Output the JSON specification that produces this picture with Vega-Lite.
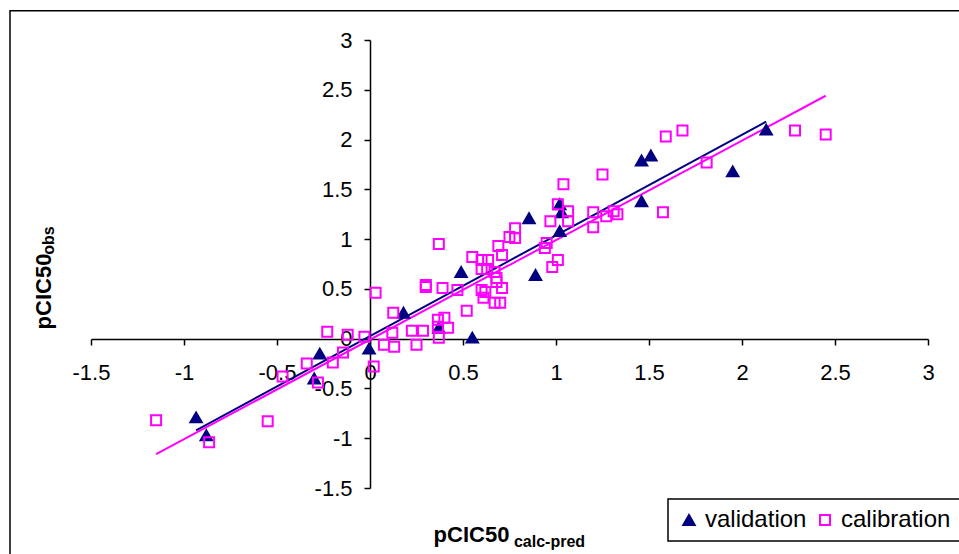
{
  "$schema": "https://vega.github.io/schema/vega-lite/v6.json",
  "width": 837,
  "height": 448,
  "autosize": {"type": "none"},
  "padding": {"left": 91, "top": 40, "right": 31, "bottom": 66},
  "background": "white",
  "config": {
    "view": {"stroke": null},
    "font": "Liberation Sans",
    "axis": {
      "grid": false,
      "domainColor": "black",
      "tickColor": "black",
      "labelColor": "black",
      "titleColor": "black",
      "domainWidth": 1.5,
      "tickWidth": 1.5,
      "labelFont": "Liberation Sans",
      "titleFont": "Liberation Sans",
      "labelFlush": false,
      "labelOverlap": false
    },
    "legend": {
      "orient": "none",
      "legendX": 577,
      "legendY": 459,
      "direction": "horizontal",
      "strokeColor": "black",
      "strokeWidth": 1.5,
      "fillColor": "white",
      "padding": 9,
      "labelFont": "Liberation Sans",
      "labelFontSize": 24,
      "labelColor": "black",
      "labelOffset": 4,
      "columnPadding": 6,
      "symbolStrokeWidth": 2
    }
  },
  "layer": [
    {
      "data": {"values": [{"frame": 1}]},
      "mark": {"type": "rect", "fill": "transparent", "stroke": "black", "strokeWidth": 1.5, "clip": false},
      "encoding": {
        "x": {"datum": -1.9355, "type": "quantitative", "scale": {"domain": [-1.5, 3], "nice": false, "zero": false}, "axis": null},
        "x2": {"datum": 3.6},
        "y": {"datum": 3.293, "type": "quantitative", "scale": {"domain": [-1.5, 3], "nice": false, "zero": false}, "axis": null},
        "y2": {"datum": -2.6}
      }
    },
    {
      "data": {"values": [{"x": -0.935, "y": -0.92}, {"x": 2.13, "y": 2.18}]},
      "mark": {"type": "line", "color": "#000080", "strokeWidth": 2},
      "encoding": {
        "x": {"field": "x", "type": "quantitative", "scale": {"domain": [-1.5, 3], "nice": false, "zero": false},
          "axis": {"orient": "bottom", "offset": -149, "domain": false, "ticks": false, "labels": false, "title": "calc-pred", "titleFontSize": 16, "titleFontWeight": "bold", "titleX": 458, "titleY": 202, "titleAlign": "center", "titleBaseline": "middle"}},
        "y": {"field": "y", "type": "quantitative", "scale": {"domain": [-1.5, 3], "nice": false, "zero": false},
          "axis": {"orient": "left", "offset": -279, "domain": false, "ticks": false, "labels": false, "title": "obs", "titleFontSize": 16, "titleFontWeight": "bold", "titleX": -322, "titleY": 200, "titleAlign": "center", "titleBaseline": "middle"}}
      }
    },
    {
      "data": {"values": [{"x": -1.15, "y": -1.16}, {"x": 2.45, "y": 2.44}]},
      "mark": {"type": "line", "color": "#FF00FF", "strokeWidth": 2},
      "encoding": {
        "x": {"field": "x", "type": "quantitative", "scale": {"domain": [-1.5, 3], "nice": false, "zero": false}, "axis": null},
        "y": {"field": "y", "type": "quantitative", "scale": {"domain": [-1.5, 3], "nice": false, "zero": false}, "axis": null}
      }
    },
    {
      "data": {"values": [
        {"set": "validation", "x": -0.935, "y": -0.79},
        {"set": "validation", "x": -0.88, "y": -0.97},
        {"set": "validation", "x": -0.27, "y": -0.15},
        {"set": "validation", "x": -0.30, "y": -0.40},
        {"set": "validation", "x": -0.005, "y": -0.10},
        {"set": "validation", "x": 0.18, "y": 0.26},
        {"set": "validation", "x": 0.37, "y": 0.11},
        {"set": "validation", "x": 0.49, "y": 0.67},
        {"set": "validation", "x": 0.55, "y": 0.01},
        {"set": "validation", "x": 0.855, "y": 1.21},
        {"set": "validation", "x": 0.89, "y": 0.64},
        {"set": "validation", "x": 1.02, "y": 1.35},
        {"set": "validation", "x": 1.03, "y": 1.27},
        {"set": "validation", "x": 1.02, "y": 1.08},
        {"set": "validation", "x": 1.46, "y": 1.79},
        {"set": "validation", "x": 1.51, "y": 1.84},
        {"set": "validation", "x": 1.46, "y": 1.38},
        {"set": "validation", "x": 1.95, "y": 1.68},
        {"set": "validation", "x": 2.13, "y": 2.10},
        {"set": "calibration", "x": -1.15, "y": -0.82},
        {"set": "calibration", "x": -0.865, "y": -1.04},
        {"set": "calibration", "x": -0.55, "y": -0.83},
        {"set": "calibration", "x": -0.47, "y": -0.38},
        {"set": "calibration", "x": -0.34, "y": -0.25},
        {"set": "calibration", "x": -0.28, "y": -0.44},
        {"set": "calibration", "x": -0.20, "y": -0.24},
        {"set": "calibration", "x": -0.145, "y": -0.14},
        {"set": "calibration", "x": -0.23, "y": 0.07},
        {"set": "calibration", "x": -0.12, "y": 0.04},
        {"set": "calibration", "x": -0.03, "y": 0.02},
        {"set": "calibration", "x": 0.02, "y": -0.28},
        {"set": "calibration", "x": 0.075, "y": -0.06},
        {"set": "calibration", "x": 0.03, "y": 0.46},
        {"set": "calibration", "x": 0.13, "y": -0.08},
        {"set": "calibration", "x": 0.12, "y": 0.06},
        {"set": "calibration", "x": 0.125, "y": 0.26},
        {"set": "calibration", "x": 0.225, "y": 0.08},
        {"set": "calibration", "x": 0.285, "y": 0.08},
        {"set": "calibration", "x": 0.25, "y": -0.06},
        {"set": "calibration", "x": 0.30, "y": 0.54},
        {"set": "calibration", "x": 0.30, "y": 0.52},
        {"set": "calibration", "x": 0.37, "y": 0.95},
        {"set": "calibration", "x": 0.365, "y": 0.19},
        {"set": "calibration", "x": 0.365, "y": 0.12},
        {"set": "calibration", "x": 0.37, "y": 0.01},
        {"set": "calibration", "x": 0.40, "y": 0.21},
        {"set": "calibration", "x": 0.42, "y": 0.11},
        {"set": "calibration", "x": 0.39, "y": 0.51},
        {"set": "calibration", "x": 0.47, "y": 0.49},
        {"set": "calibration", "x": 0.52, "y": 0.28},
        {"set": "calibration", "x": 0.55, "y": 0.82},
        {"set": "calibration", "x": 0.60, "y": 0.79},
        {"set": "calibration", "x": 0.635, "y": 0.79},
        {"set": "calibration", "x": 0.60, "y": 0.70},
        {"set": "calibration", "x": 0.63, "y": 0.70},
        {"set": "calibration", "x": 0.67, "y": 0.67},
        {"set": "calibration", "x": 0.68, "y": 0.61},
        {"set": "calibration", "x": 0.68, "y": 0.57},
        {"set": "calibration", "x": 0.60, "y": 0.49},
        {"set": "calibration", "x": 0.62, "y": 0.47},
        {"set": "calibration", "x": 0.61, "y": 0.41},
        {"set": "calibration", "x": 0.71, "y": 0.51},
        {"set": "calibration", "x": 0.67, "y": 0.36},
        {"set": "calibration", "x": 0.70, "y": 0.36},
        {"set": "calibration", "x": 0.69, "y": 0.93},
        {"set": "calibration", "x": 0.71, "y": 0.84},
        {"set": "calibration", "x": 0.75, "y": 1.02},
        {"set": "calibration", "x": 0.78, "y": 1.11},
        {"set": "calibration", "x": 0.78, "y": 1.01},
        {"set": "calibration", "x": 0.97, "y": 1.18},
        {"set": "calibration", "x": 0.95, "y": 0.96},
        {"set": "calibration", "x": 0.94, "y": 0.91},
        {"set": "calibration", "x": 0.98, "y": 0.72},
        {"set": "calibration", "x": 1.01, "y": 0.79},
        {"set": "calibration", "x": 1.25, "y": 1.65},
        {"set": "calibration", "x": 1.04, "y": 1.55},
        {"set": "calibration", "x": 1.01, "y": 1.35},
        {"set": "calibration", "x": 1.065, "y": 1.28},
        {"set": "calibration", "x": 1.065, "y": 1.18},
        {"set": "calibration", "x": 1.20, "y": 1.27},
        {"set": "calibration", "x": 1.20, "y": 1.12},
        {"set": "calibration", "x": 1.27, "y": 1.23},
        {"set": "calibration", "x": 1.31, "y": 1.28},
        {"set": "calibration", "x": 1.33, "y": 1.25},
        {"set": "calibration", "x": 1.59, "y": 2.03},
        {"set": "calibration", "x": 1.68, "y": 2.09},
        {"set": "calibration", "x": 1.81, "y": 1.77},
        {"set": "calibration", "x": 1.575, "y": 1.27},
        {"set": "calibration", "x": 2.285, "y": 2.09},
        {"set": "calibration", "x": 2.45, "y": 2.05}
      ]},
      "mark": {"type": "point", "strokeWidth": 2, "opacity": 1},
      "encoding": {
        "x": {"field": "x", "type": "quantitative", "scale": {"domain": [-1.5, 3], "nice": false, "zero": false},
          "axis": {"orient": "bottom", "offset": -149, "values": [-1.5, -1, -0.5, 0, 0.5, 1, 1.5, 2, 2.5, 3], "labelExpr": "'' + datum.value", "labelFontSize": 22, "tickSize": 6, "labelPadding": 17, "title": "pCIC50", "titleFontSize": 22, "titleFontWeight": "bold", "titleX": 380, "titleY": 195, "titleAlign": "center", "titleBaseline": "middle"}},
        "y": {"field": "y", "type": "quantitative", "scale": {"domain": [-1.5, 3], "nice": false, "zero": false},
          "axis": {"orient": "left", "offset": -279, "values": [-1.5, -1, -0.5, 0, 0.5, 1, 1.5, 2, 2.5, 3], "labelExpr": "'' + datum.value", "labelFontSize": 22, "tickSize": 6, "labelPadding": 12, "title": "pCIC50", "titleFontSize": 22, "titleFontWeight": "bold", "titleX": -327, "titleY": 251, "titleAlign": "center", "titleBaseline": "middle"}},
        "shape": {"field": "set", "type": "nominal", "scale": {"domain": ["validation", "calibration"], "range": ["triangle-up", "square"]}, "legend": {"title": null}},
        "fill": {"field": "set", "type": "nominal", "scale": {"domain": ["validation", "calibration"], "range": ["#000080", "transparent"]}, "legend": {"title": null}},
        "stroke": {"field": "set", "type": "nominal", "scale": {"domain": ["validation", "calibration"], "range": ["#000080", "#FF00FF"]}, "legend": {"title": null}},
        "size": {"field": "set", "type": "nominal", "scale": {"domain": ["validation", "calibration"], "range": [130, 100]}, "legend": {"title": null}}
      }
    }
  ],
  "resolve": {"axis": {"x": "independent", "y": "independent"}}
}
